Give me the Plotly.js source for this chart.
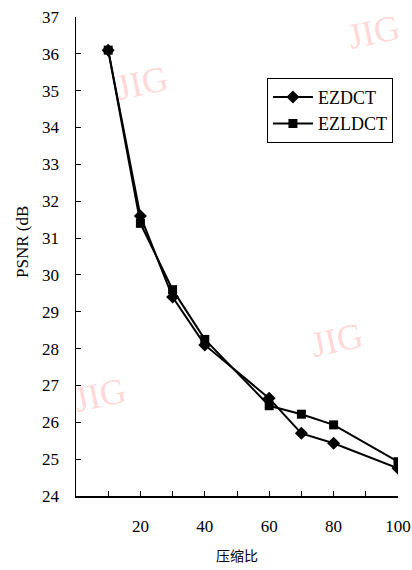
<!DOCTYPE html>
<html><head><meta charset="utf-8">
<script src="https://cdn.plot.ly/plotly-3.0.1.min.js"></script>
<style>html,body{margin:0;padding:0;background:#fff}</style>
</head><body>
<div id="chart" style="width:412px;height:570px"></div>
<script>
const ratios = [10, 20, 30, 40, 60, 70, 80, 100];
const ezdct  = [36.1, 31.6, 29.4, 28.1, 26.65, 25.7, 25.43, 24.75];
const ezldct = [36.1, 31.4, 29.6, 28.25, 26.45, 26.22, 25.93, 24.93];
const xTickVals = [10, 20, 30, 40, 50, 60, 70, 80, 90, 100];
const xTickText = ['', '20', '', '40', '', '60', '', '80', '', '100'];
const yTickVals = [24, 25, 26, 27, 28, 29, 30, 31, 32, 33, 34, 35, 36, 37];

const serif = "'Liberation Serif', 'Times New Roman', serif";
const traces = [
  {x: ratios, y: ezdct, name: 'EZDCT', mode: 'lines+markers',
   line: {color: '#000', width: 2}, marker: {symbol: 'diamond', size: 10, color: '#000'}},
  {x: ratios, y: ezldct, name: 'EZLDCT', mode: 'lines+markers',
   line: {color: '#000', width: 2}, marker: {symbol: 'square', size: 9, color: '#000'}}
];
const wm = {family: serif, size: 36, color: 'rgba(255,120,120,0.3)'};
const layout = {
  width: 412, height: 570,
  margin: {l: 76, r: 14, t: 17, b: 74},
  paper_bgcolor: '#fff', plot_bgcolor: '#fff',
  showlegend: true,
  legend: {x: 0.593, y: 0.873, xanchor: 'left', yanchor: 'top',
    bordercolor: '#000', borderwidth: 1, bgcolor: '#fff',
    font: {family: serif, size: 18, color: '#000'}, tracegroupgap: 6, itemwidth: 40},
  xaxis: {range: [0, 100], showgrid: false, zeroline: false, showline: true,
    linecolor: '#000', linewidth: 1.5, ticks: 'inside', ticklen: 5, tickcolor: '#000',
    tickvals: xTickVals, ticktext: xTickText, ticklabelstandoff: 14,
    tickfont: {family: serif, size: 17, color: '#000'}},
  yaxis: {range: [24, 37], showgrid: false, zeroline: false, showline: true,
    linecolor: '#000', linewidth: 1.5, ticks: 'inside', ticklen: 5, tickcolor: '#000',
    tickvals: yTickVals, ticklabelstandoff: 12,
    tickfont: {family: serif, size: 17, color: '#000'}},
  annotations: [
    {text: 'PSNR (dB', xref: 'paper', yref: 'paper', x: -0.168, y: 0.53,
     xanchor: 'center', yanchor: 'middle',
     showarrow: false, textangle: -90, font: {family: serif, size: 17, color: '#000'}},
    {text: '压缩比', xref: 'paper', yref: 'paper', x: 0.5, y: -0.124,
     xanchor: 'center', yanchor: 'middle',
     showarrow: false, font: {family: 'Noto Sans CJK SC', size: 14, color: '#000'}},
    {text: 'JIG', xref: 'paper', yref: 'paper', x: 0.205, y: 0.862, xanchor: 'center', yanchor: 'middle', showarrow: false, textangle: -12, font: wm},
    {text: 'JIG', xref: 'paper', yref: 'paper', x: 0.811, y: 0.326, xanchor: 'center', yanchor: 'middle', showarrow: false, textangle: -12, font: wm},
    {text: 'JIG', xref: 'paper', yref: 'paper', x: 0.075, y: 0.21, xanchor: 'center', yanchor: 'middle', showarrow: false, textangle: -12, font: wm},
    {text: 'JIG', xref: 'paper', yref: 'paper', x: 0.925, y: 0.968, xanchor: 'center', yanchor: 'middle', showarrow: false, textangle: -12, font: wm}
  ]
};
Plotly.newPlot('chart', traces, layout, {staticPlot: true, displayModeBar: false});
</script>
</body></html>
